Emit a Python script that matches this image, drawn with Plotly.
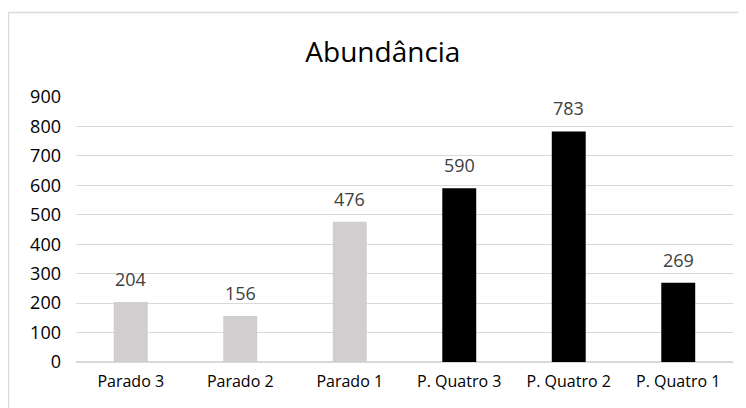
import plotly.graph_objects as go

categories = ["Parado 3", "Parado 2", "Parado 1", "P. Quatro 3", "P. Quatro 2", "P. Quatro 1"]
values = [204, 156, 476, 590, 783, 269]
bar_colors = ["#d0cece", "#d0cece", "#d0cece", "#000000", "#000000", "#000000"]
y_ticks = [0, 100, 200, 300, 400, 500, 600, 700, 800, 900]

FONT = "Open Sans"

fig = go.Figure(go.Bar(
    x=categories, y=values,
    marker=dict(color=bar_colors, line=dict(width=0)),
    width=0.31,
))

# value labels above bars
for c, v in zip(categories, values):
    fig.add_annotation(x=c, y=v, text=str(v), showarrow=False, yanchor="bottom", yshift=9,
                       font=dict(family=FONT, size=18, color="#404040"))

# page body has an 8px margin, so the figure starts at (8, 8)
fig.update_layout(
    width=738, height=400,
    margin=dict(l=68, r=13, t=89, b=46, autoexpand=False),
    paper_bgcolor="white", plot_bgcolor="white",
    showlegend=False,
    font=dict(family=FONT, color="#000000"),
    title=dict(text="Abundância", x=0.508, xanchor="center", y=0.89, yanchor="middle",
               font=dict(family=FONT, size=28, color="#000000")),
    shapes=[dict(type="rect", xref="paper", yref="paper",
                 x0=(0.5 - 68) / 657, x1=(760 - 68) / 657,
                 y0=(354 - 430) / 265, y1=(354 - 4.5) / 265,
                 line=dict(color="#d9d9d9", width=1.5), fillcolor="rgba(0,0,0,0)", layer="below")],
)
fig.update_yaxes(range=[0, 900], tickvals=y_ticks, showgrid=True, gridcolor="#d9d9d9", gridwidth=1,
                 zeroline=True, zerolinecolor="#d9d9d9", showline=False, automargin=False,
                 tickfont=dict(family=FONT, size=18, color="#000000"), ticklabelstandoff=14)
fig.update_xaxes(showline=False, automargin=False, tickfont=dict(family=FONT, size=16, color="#000000"),
                 ticklabelstandoff=8)

fig.write_html("out.html")
